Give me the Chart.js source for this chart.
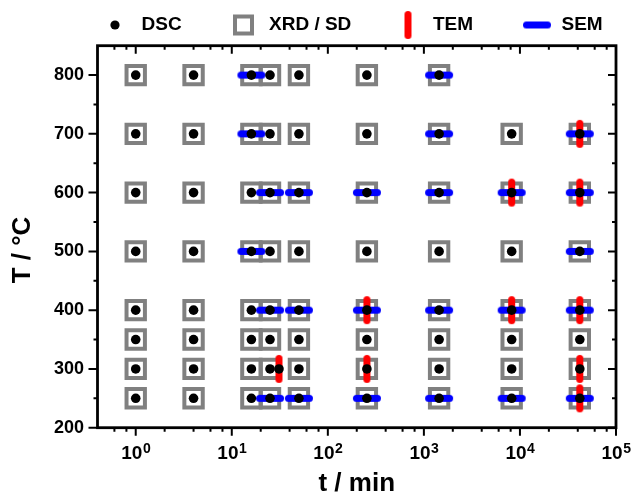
<!DOCTYPE html>
<html>
<head>
<meta charset="utf-8">
<script src="https://cdn.jsdelivr.net/npm/chart.js@4/dist/chart.umd.min.js"></script>
<style>
  html, body { margin: 0; padding: 0; background: #fff; }
  #wrap { width: 633px; height: 499px; }
</style>
</head>
<body>
<div id="wrap"><canvas id="c" width="633" height="499"></canvas></div>
<script>
const FONT = "'Liberation Sans', Arial, Helvetica, sans-serif";

// Annealing time (min) and temperature (°C) of every sample, per technique
const xrdTime = [
  1, 4, 16, 25, 50, 255, 1440,
  1, 4, 16, 25, 50, 255, 1440, 8200, 42000,
  1, 4, 16, 25, 50, 255, 1440, 8200, 42000,
  1, 4, 16, 25, 50, 255, 1440, 8200, 42000,
  1, 4, 16, 25, 50, 255, 1440, 8200, 42000,
  1, 4, 16, 25, 50, 255, 1440, 8200, 42000,
  1, 4, 16, 25, 50, 255, 1440, 8200, 42000,
  1, 4, 16, 25, 50, 255, 1440, 8200, 42000
];
const xrdTemp = [
  800, 800, 800, 800, 800, 800, 800,
  700, 700, 700, 700, 700, 700, 700, 700, 700,
  600, 600, 600, 600, 600, 600, 600, 600, 600,
  500, 500, 500, 500, 500, 500, 500, 500, 500,
  400, 400, 400, 400, 400, 400, 400, 400, 400,
  350, 350, 350, 350, 350, 350, 350, 350, 350,
  300, 300, 300, 300, 300, 300, 300, 300, 300,
  250, 250, 250, 250, 250, 250, 250, 250, 250
];

const dscTime = [
  1, 4, 16, 25, 50, 255, 1440,
  1, 4, 16, 25, 50, 255, 1440, 8200, 42000,
  1, 4, 16, 25, 50, 255, 1440, 8200, 42000,
  1, 4, 16, 25, 50, 255, 1440, 8200, 42000,
  1, 4, 16, 25, 50, 255, 1440, 8200, 42000,
  1, 4, 16, 25, 50, 255, 1440, 8200, 42000,
  1, 4, 16, 25, 31, 50, 255, 1440, 8200, 42000,
  1, 4, 16, 25, 50, 255, 1440, 8200, 42000
];
const dscTemp = [
  800, 800, 800, 800, 800, 800, 800,
  700, 700, 700, 700, 700, 700, 700, 700, 700,
  600, 600, 600, 600, 600, 600, 600, 600, 600,
  500, 500, 500, 500, 500, 500, 500, 500, 500,
  400, 400, 400, 400, 400, 400, 400, 400, 400,
  350, 350, 350, 350, 350, 350, 350, 350, 350,
  300, 300, 300, 300, 300, 300, 300, 300, 300, 300,
  250, 250, 250, 250, 250, 250, 250, 250, 250
];

const semTime = [
  16, 1440,
  16, 1440, 42000,
  25, 50, 255, 1440, 8200, 42000,
  16, 42000,
  25, 50, 255, 1440, 8200, 42000,
  25, 50, 255, 1440, 8200, 42000
];
const semTemp = [
  800, 800,
  700, 700, 700,
  600, 600, 600, 600, 600, 600,
  500, 500,
  400, 400, 400, 400, 400, 400,
  250, 250, 250, 250, 250, 250
];

const temTime = [42000, 8200, 42000, 255, 8200, 42000, 31, 255, 42000, 42000];
const temTemp = [700, 600, 600, 400, 400, 400, 300, 300, 300, 250];

// Axis ticks
const yTicks = [200, 300, 400, 500, 600, 700, 800];
const yMinorTicks = [250, 350, 450, 550, 650, 750];
const xTickExp = [0, 1, 2, 3, 4, 5];
const xMinorMult = [2, 4, 6, 8];

const COL_XRD = '#808080';
const COL_TEM = '#ff0000';
const COL_SEM = '#0000ff';

function pts(tx, ty) { return tx.map((t, i) => ({ x: t, y: ty[i] })); }

// Rounded bar markers (SEM horizontal, TEM vertical)
function barMarker(color, horizontal) {
  const len = 28, thick = 7;
  const c = document.createElement('canvas');
  c.width = horizontal ? len + 2 : thick + 2;
  c.height = horizontal ? thick + 2 : len + 2;
  const g = c.getContext('2d');
  g.strokeStyle = color;
  g.lineWidth = thick;
  g.lineCap = 'round';
  g.beginPath();
  if (horizontal) {
    g.moveTo(1 + thick / 2, c.height / 2);
    g.lineTo(c.width - 1 - thick / 2, c.height / 2);
  } else {
    g.moveTo(c.width / 2, 1 + thick / 2);
    g.lineTo(c.width / 2, c.height - 1 - thick / 2);
  }
  g.stroke();
  return c;
}
const semImg = barMarker(COL_SEM, true);
const temImg = barMarker(COL_TEM, false);

// Frame with inward ticks on top/right, outward on bottom/left, plus titles
const axesPlugin = {
  id: 'axesFrame',
  afterDraw(chart) {
    const { ctx, chartArea: a } = chart;
    const x = chart.scales.x, y = chart.scales.y;
    ctx.save();
    ctx.strokeStyle = '#000';
    ctx.lineWidth = 2;
    ctx.beginPath();
    const major = 8, minor = 4;
    xTickExp.forEach(e => {
      const px = x.getPixelForValue(Math.pow(10, e));
      ctx.moveTo(px, a.bottom); ctx.lineTo(px, a.bottom + major);
      ctx.moveTo(px, a.top); ctx.lineTo(px, a.top + major);
    });
    [-1, 0, 1, 2, 3, 4].forEach(e => {
      xMinorMult.forEach(m => {
        const v = m * Math.pow(10, e);
        if (v <= x.min || v >= x.max) return;
        const px = x.getPixelForValue(v);
        ctx.moveTo(px, a.bottom); ctx.lineTo(px, a.bottom + minor);
        ctx.moveTo(px, a.top); ctx.lineTo(px, a.top + minor);
      });
    });
    yTicks.forEach(v => {
      const py = y.getPixelForValue(v);
      ctx.moveTo(a.left - major - 1, py); ctx.lineTo(a.left, py);
      ctx.moveTo(a.right, py); ctx.lineTo(a.right - major, py);
    });
    yMinorTicks.forEach(v => {
      const py = y.getPixelForValue(v);
      ctx.moveTo(a.left - minor, py); ctx.lineTo(a.left, py);
      ctx.moveTo(a.right, py); ctx.lineTo(a.right - minor, py);
    });
    ctx.stroke();

    ctx.lineWidth = 2.8;
    ctx.strokeRect(a.left, a.top, a.right - a.left, a.bottom - a.top);

    // x tick labels: 10 with superscript exponent
    ctx.fillStyle = '#000';
    ctx.textBaseline = 'alphabetic';
    ctx.textAlign = 'left';
    const baseFont = 'bold 19px ' + FONT, supFont = 'bold 14px ' + FONT;
    xTickExp.forEach(e => {
      const px = x.getPixelForValue(Math.pow(10, e));
      ctx.font = baseFont;
      const wb = ctx.measureText('10').width;
      ctx.font = supFont;
      const ws = ctx.measureText(String(e)).width;
      const x0 = px - (wb + ws) / 2;
      ctx.font = baseFont;
      ctx.fillText('10', x0, a.bottom + 31.5);
      ctx.font = supFont;
      ctx.fillText(String(e), x0 + wb + 0.5, a.bottom + 25);
    });

    // axis titles
    ctx.font = 'bold 26px ' + FONT;
    ctx.textAlign = 'center';
    ctx.textBaseline = 'middle';
    ctx.fillText('t / min', (a.left + a.right) / 2, 484);
    ctx.save();
    ctx.translate(23, 250);
    ctx.rotate(-Math.PI / 2);
    ctx.fillText('T / °C', 0, 0);
    ctx.restore();
    ctx.restore();
  }
};

// Legend row above the plot
const legendPlugin = {
  id: 'topLegend',
  afterDraw(chart) {
    const { ctx } = chart;
    const ds = chart.data.datasets;
    const cy = 25;
    ctx.save();
    ctx.font = 'bold 19px ' + FONT;
    ctx.fillStyle = '#000';
    ctx.textAlign = 'left';
    ctx.textBaseline = 'middle';
    // DSC
    ctx.beginPath();
    ctx.arc(115, cy, 4.6, 0, Math.PI * 2);
    ctx.fill();
    ctx.fillText(ds[0].label, 141.5, cy);
    // XRD / SD
    ctx.strokeStyle = COL_XRD;
    ctx.lineWidth = 4;
    ctx.strokeRect(243.5 - 8.5, cy - 8.5, 17, 17);
    ctx.fillText(ds[3].label, 269, cy);
    // TEM
    ctx.drawImage(temImg, 408 - temImg.width / 2, cy - temImg.height / 2);
    ctx.fillText(ds[2].label, 433, cy);
    // SEM
    ctx.drawImage(semImg, 537 - semImg.width / 2, cy - semImg.height / 2);
    ctx.fillText(ds[1].label, 561.5, cy);
    ctx.restore();
  }
};

const bgPlugin = {
  id: 'bg',
  beforeDraw(chart) {
    const { ctx, width, height } = chart;
    ctx.save();
    ctx.fillStyle = '#fff';
    ctx.fillRect(0, 0, width, height);
    ctx.restore();
  }
};

new Chart(document.getElementById('c'), {
  type: 'scatter',
  data: {
    datasets: [
      {
        label: 'DSC', data: pts(dscTime, dscTemp), order: 1,
        pointStyle: 'circle', pointRadius: 4.8, pointBorderWidth: 0,
        pointBackgroundColor: '#000', pointBorderColor: '#000'
      },
      {
        label: 'SEM', data: pts(semTime, semTemp), order: 2,
        pointStyle: semImg, pointRadius: 14
      },
      {
        label: 'TEM', data: pts(temTime, temTemp), order: 3,
        pointStyle: temImg, pointRadius: 14
      },
      {
        label: 'XRD / SD', data: pts(xrdTime, xrdTemp), order: 4,
        pointStyle: 'rect', pointRadius: 13, pointBorderWidth: 4,
        pointBorderColor: COL_XRD, pointBackgroundColor: 'rgba(255,255,255,0)'
      }
    ]
  },
  options: {
    responsive: false,
    animation: false,
    events: [],
    layout: { padding: { left: 0, top: 45.7, right: 16.5, bottom: 71.3 } },
    plugins: { legend: { display: false }, tooltip: { enabled: false } },
    scales: {
      x: { type: 'logarithmic', min: 0.4, max: 100000, display: false },
      y: {
        type: 'linear', min: 200, max: 850,
        grid: { display: false, drawTicks: false },
        border: { display: false },
        ticks: { font: { family: FONT, size: 18, weight: 'bold' }, color: '#000', padding: 13.5 },
        afterBuildTicks: s => { s.ticks = yTicks.map(v => ({ value: v })); },
        afterFit: s => { s.width = 97.5; }
      }
    }
  },
  plugins: [bgPlugin, axesPlugin, legendPlugin]
});
</script>
</body>
</html>
